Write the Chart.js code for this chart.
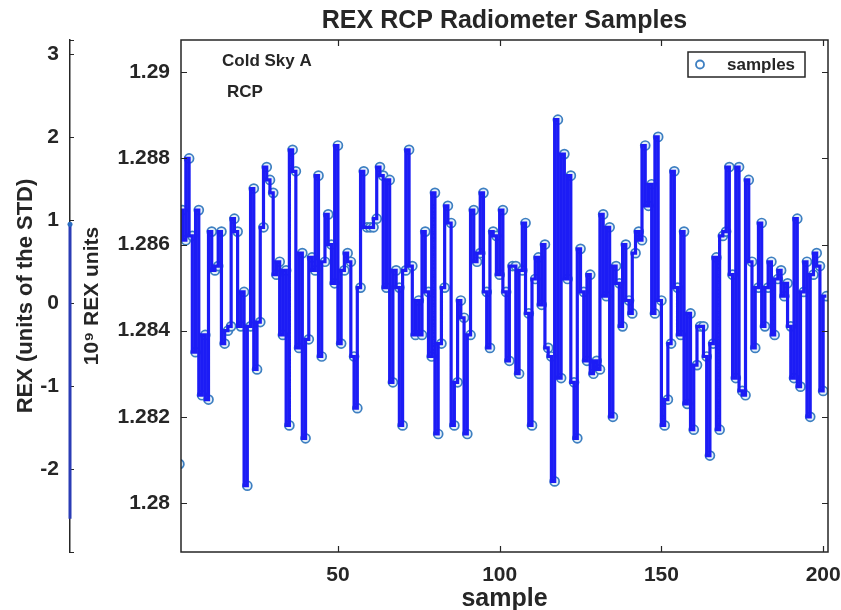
<!DOCTYPE html>
<html lang="en">
<head>
<meta charset="UTF-8">
<title>REX RCP Radiometer Samples</title>
<script src="https://cdn.jsdelivr.net/npm/chart.js"></script>
<style>
    html, body {
        margin: 0;
        padding: 0;
        background: #fff;
    }
    #wrap {
        width: 841px;
        height: 610px;
    }
</style>
</head>
<body>
<div id="wrap"><canvas id="grafico" width="841" height="610"></canvas></div>
<script>
// REX samples (10^9 REX units), one per sample index 1..201
const samples = [
    1.2809, 1.2868, 1.2861, 1.2880, 1.2862, 1.2835, 1.2868, 1.2825, 1.2839, 1.2824,
    1.2863, 1.2854, 1.2855, 1.2863, 1.2837, 1.2840, 1.2841, 1.2866, 1.2863, 1.2841,
    1.2849, 1.2804, 1.2841, 1.2873, 1.2831, 1.2842, 1.2864, 1.2878, 1.2875, 1.2872,
    1.2853, 1.2856, 1.2839, 1.2854, 1.2818, 1.2882, 1.2877, 1.2836, 1.2858, 1.2815,
    1.2838, 1.2857, 1.2854, 1.2876, 1.2834, 1.2856, 1.2867, 1.2860, 1.2851, 1.2883,
    1.2837, 1.2854, 1.2858, 1.2856, 1.2834, 1.2822, 1.2850, 1.2877, 1.2864, 1.2864,
    1.2864, 1.2866, 1.2878, 1.2876, 1.2850, 1.2875, 1.2828, 1.2854, 1.2850, 1.2818,
    1.2854, 1.2882, 1.2855, 1.2839, 1.2847, 1.2839, 1.2863, 1.2849, 1.2834, 1.2872,
    1.2816, 1.2837, 1.2850, 1.2869, 1.2865, 1.2818, 1.2828, 1.2847, 1.2843, 1.2816,
    1.2839, 1.2868, 1.2856, 1.2858, 1.2872, 1.2849, 1.2836, 1.2863, 1.2862, 1.2853,
    1.2868, 1.2849, 1.2833, 1.2855, 1.2855, 1.2830, 1.2854, 1.2865, 1.2844, 1.2818,
    1.2852, 1.2857, 1.2846, 1.2860, 1.2836, 1.2834, 1.2805, 1.2889, 1.2829, 1.2881,
    1.2852, 1.2876, 1.2828, 1.2815, 1.2859, 1.2849, 1.2833, 1.2853, 1.2830, 1.2833,
    1.2831, 1.2867, 1.2848, 1.2864, 1.2820, 1.2855, 1.2851, 1.2841, 1.2860, 1.2847,
    1.2844, 1.2858, 1.2863, 1.2861, 1.2883, 1.2869, 1.2874, 1.2844, 1.2885, 1.2847,
    1.2818, 1.2824, 1.2837, 1.2877, 1.2850, 1.2839, 1.2863, 1.2823, 1.2844, 1.2817,
    1.2832, 1.2841, 1.2841, 1.2834, 1.2811, 1.2837, 1.2857, 1.2817, 1.2862, 1.2863,
    1.2878, 1.2853, 1.2829, 1.2878, 1.2826, 1.2825, 1.2875, 1.2856, 1.2836, 1.2850,
    1.2865, 1.2841, 1.2850, 1.2856, 1.2839, 1.2852, 1.2854, 1.2848, 1.2851, 1.2841,
    1.2829, 1.2866, 1.2827, 1.2849, 1.2856, 1.2820, 1.2853, 1.2858, 1.2855, 1.2826,
    1.2848
];

// first step of the series in units of the STD (left axis)
const stdBar = [0.95, -2.6];

const xTicks = [50, 100, 150, 200];
const yTicks = [1.28, 1.282, 1.284, 1.286, 1.288, 1.29];
const yTickLabels = ['1.28', '1.282', '1.284', '1.286', '1.288', '1.29'];
const stdTicks = [-2, -1, 0, 1, 2, 3];
const stdTickLabels = ['-2', '-1', '0', '1', '2', '3'];

const seriesLabel = 'samples';
const notes = ['Cold Sky A', 'RCP'];

const FONT = "'Liberation Sans', Arial, Helvetica, sans-serif";
const INK = '#262626';

const punti = samples.map((v, i) => ({ x: i + 1, y: v }));

// box, inner ticks, std bar, legend and notes
const cornice = {
    id: 'cornice',
    afterDraw(chart) {
        const { ctx, chartArea: a, scales } = chart;
        ctx.save();

        // plot box
        ctx.strokeStyle = INK;
        ctx.lineWidth = 1.5;
        ctx.strokeRect(a.left, a.top, a.right - a.left, a.bottom - a.top);

        // inner ticks
        ctx.lineWidth = 1.2;
        ctx.beginPath();
        xTicks.forEach(v => {
            const px = Math.round(scales.x.getPixelForValue(v)) + 0.5;
            ctx.moveTo(px, a.bottom); ctx.lineTo(px, a.bottom - 6);
            ctx.moveTo(px, a.top); ctx.lineTo(px, a.top + 6);
        });
        yTicks.forEach(v => {
            const py = Math.round(scales.y.getPixelForValue(v)) + 0.5;
            ctx.moveTo(a.left, py); ctx.lineTo(a.left + 6, py);
            ctx.moveTo(a.right, py); ctx.lineTo(a.right - 6, py);
        });
        const y2 = scales.y2;
        const bx = y2.right;
        stdTicks.concat([y2.min, y2.max]).forEach(v => {
            const py = Math.round(y2.getPixelForValue(v)) + 0.5;
            ctx.moveTo(bx, py); ctx.lineTo(bx + 4, py);
        });
        ctx.stroke();

        // std bar on the left axis
        ctx.strokeStyle = '#2b3cb5';
        ctx.lineWidth = 3;
        ctx.beginPath();
        ctx.moveTo(bx, y2.getPixelForValue(stdBar[0]));
        ctx.lineTo(bx, y2.getPixelForValue(stdBar[1]));
        ctx.stroke();
        ctx.fillStyle = '#2b6cc0';
        ctx.beginPath();
        ctx.arc(bx, y2.getPixelForValue(stdBar[0]), 2.5, 0, Math.PI * 2);
        ctx.fill();

        // legend
        const lw = 117, lh = 25;
        const lx = a.right - 140, ly = a.top + 12;
        ctx.fillStyle = '#fff';
        ctx.fillRect(lx, ly, lw, lh);
        ctx.strokeStyle = INK;
        ctx.lineWidth = 1.5;
        ctx.strokeRect(lx, ly, lw, lh);
        ctx.strokeStyle = '#3d7fc1';
        ctx.lineWidth = 1.8;
        ctx.beginPath();
        ctx.arc(lx + 12, ly + lh / 2, 4, 0, Math.PI * 2);
        ctx.stroke();
        ctx.fillStyle = INK;
        ctx.font = 'bold 17px ' + FONT;
        ctx.textBaseline = 'middle';
        ctx.textAlign = 'left';
        ctx.fillText(chart.data.datasets[0].label, lx + 39, ly + lh / 2 + 1);

        // notes
        ctx.fillText(notes[0], a.left + 41, a.top + 21);
        ctx.fillText(notes[1], a.left + 46, a.top + 52);

        ctx.restore();
    }
};

Chart.defaults.font.family = FONT;
Chart.defaults.color = INK;

new Chart(document.getElementById('grafico').getContext('2d'), {
    type: 'line',
    data: {
        datasets: [
            {
                label: seriesLabel,
                data: punti,
                showLine: false,
                pointStyle: 'circle',
                pointRadius: 4.5,
                pointBorderWidth: 1.7,
                pointBorderColor: '#3d7fc1',
                pointBackgroundColor: 'rgba(225,237,248,0.9)',
                order: 2
            },
            {
                label: 'stairs',
                data: punti,
                stepped: 'after',
                borderColor: '#1c1cf5',
                borderWidth: 3.2,
                pointRadius: 0,
                fill: false,
                order: 1
            }
        ]
    },
    plugins: [cornice],
    options: {
        responsive: false,
        animation: false,
        layout: { padding: { top: 0, right: 13, bottom: 0, left: 0 } },
        plugins: {
            legend: { display: false },
            tooltip: { enabled: false },
            title: {
                display: true,
                fullSize: false,
                text: 'REX RCP Radiometer Samples',
                color: INK,
                font: { size: 25, weight: 'bold' },
                padding: { top: 6, bottom: 4 }
            }
        },
        scales: {
            x: {
                type: 'linear',
                position: 'bottom',
                min: 1.5,
                max: 201.5,
                afterFit: s => {
                    s.height = 58;
                    s.paddingLeft = 0;
                    s.paddingRight = 0;
                },
                afterBuildTicks: s => { s.ticks = xTicks.map(v => ({ value: v })); },
                grid: { display: false, drawTicks: false },
                border: { display: false },
                ticks: {
                    padding: 11,
                    maxRotation: 0,
                    font: { size: 21, weight: 'bold' },
                    color: INK
                },
                title: {
                    display: true,
                    text: 'sample',
                    font: { size: 25, weight: 'bold' },
                    color: INK,
                    padding: { top: 0, bottom: -4 }
                }
            },
            y: {
                type: 'linear',
                position: 'left',
                weight: 0,
                min: 1.27886,
                max: 1.29075,
                afterFit: s => { s.width = 111; },
                afterBuildTicks: s => { s.ticks = yTicks.map(v => ({ value: v })); },
                grid: { display: false, drawTicks: false },
                border: { display: false },
                ticks: {
                    padding: 11,
                    font: { size: 21, weight: 'bold' },
                    color: INK,
                    callback: (v, i) => yTickLabels[i]
                },
                title: {
                    display: true,
                    text: '10\u2079 REX units',
                    font: { size: 21, weight: 'bold' },
                    color: INK,
                    padding: { top: 10, bottom: 0 }
                }
            },
            y2: {
                type: 'linear',
                position: 'left',
                weight: 1,
                min: -3.0,
                max: 3.17,
                afterFit: s => { s.width = 70; },
                afterBuildTicks: s => { s.ticks = stdTicks.map(v => ({ value: v })); },
                grid: { display: false, drawTicks: false },
                border: { display: true, color: INK, width: 1.5 },
                ticks: {
                    padding: 11,
                    font: { size: 21, weight: 'bold' },
                    color: INK,
                    callback: (v, i) => stdTickLabels[i]
                },
                title: {
                    display: true,
                    text: 'REX (units of the STD)',
                    font: { size: 22, weight: 'bold' },
                    color: INK,
                    padding: { top: 13, bottom: 0 }
                }
            }
        }
    }
});
</script>
</body>
</html>
